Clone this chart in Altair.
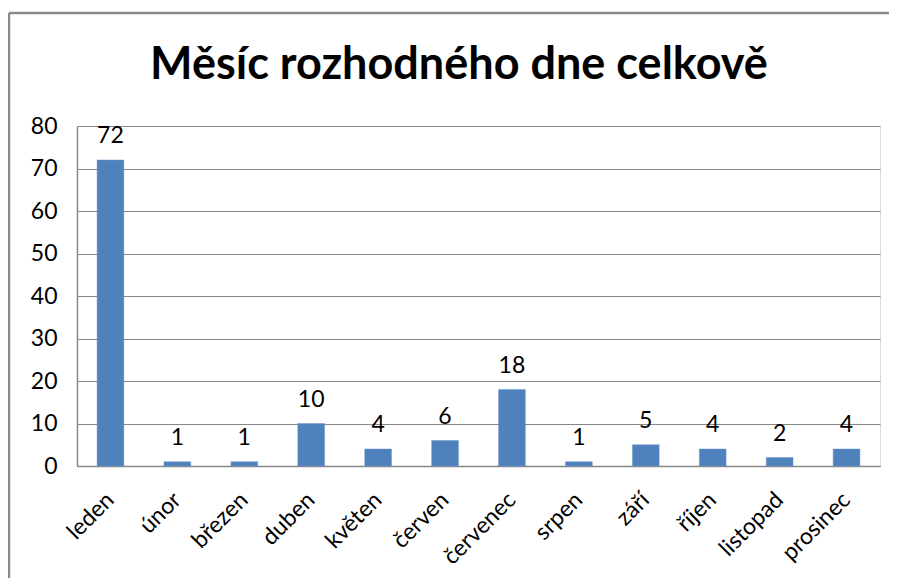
import altair as alt
import pandas as pd

TITLE = "Měsíc rozhodného dne celkově"
months = ["leden", "únor", "březen", "duben", "květen", "červen", "červenec",
          "srpen", "září", "říjen", "listopad", "prosinec"]
counts = [72, 1, 1, 10, 4, 6, 18, 1, 5, 4, 2, 4]
y_ticks = [0, 10, 20, 30, 40, 50, 60, 70, 80]

FONT = "Lato"
BAR = "#4F81BD"
GRID = "#878787"

df = pd.DataFrame({"month": months, "count": counts})

x_enc = alt.X("month:N", sort=months, title=None,
              scale=alt.Scale(paddingInner=0.6, paddingOuter=0.3),
              axis=alt.Axis(labelAngle=-45, labelAlign="right", labelBaseline="middle",
                            labelPadding=30, labelFontSize=23, labelFont=FONT,
                            labelColor="#000000", ticks=False, domainColor=GRID,
                            domainWidth=1.5, grid=False))
y_enc = alt.Y("count:Q", title=None,
              scale=alt.Scale(domain=[0, 80], nice=False),
              axis=alt.Axis(values=y_ticks, labelFontSize=23, labelFont=FONT,
                            labelColor="#000000", labelPadding=20, ticks=False,
                            domainColor=GRID, domainWidth=1.5, gridColor=GRID,
                            gridWidth=1))

base = alt.Chart(df)
bars = base.mark_bar(color=BAR, stroke="#6d97cc", strokeWidth=0.5).encode(x=x_enc, y=y_enc)
labels = base.mark_text(dy=-17, baseline="alphabetic", fontSize=23, font=FONT,
                        color="#000000").encode(
    x=alt.X("month:N", sort=months), y="count:Q", text="count:Q")

title_df = pd.DataFrame({"t": [TITLE]})
title = alt.Chart(title_df).mark_text(fontSize=45, font=FONT, fontWeight="bold",
                                      baseline="alphabetic", align="center",
                                      color="#000000").encode(
    x=alt.value(382), y=alt.value(-47), text="t:N")

frame_top = alt.Chart(title_df).mark_rule(color="#8a8a8a", strokeWidth=2.5).encode(
    x=alt.value(-68), x2=alt.value(900), y=alt.value(-113))
frame_left = alt.Chart(title_df).mark_rule(color="#8a8a8a", strokeWidth=2.5).encode(
    x=alt.value(-68), y=alt.value(-113), y2=alt.value(480))

chart = alt.layer(frame_top, frame_left, bars, labels, title).properties(
    width=803, height=340,
    autosize=alt.AutoSizeParams(type="none"),
    padding={"left": 69, "top": 118, "right": 9, "bottom": 112},
).configure_view(stroke=None).configure(background="#ffffff")

chart.save("out.html", embed_options={"renderer": "svg", "actions": False})
